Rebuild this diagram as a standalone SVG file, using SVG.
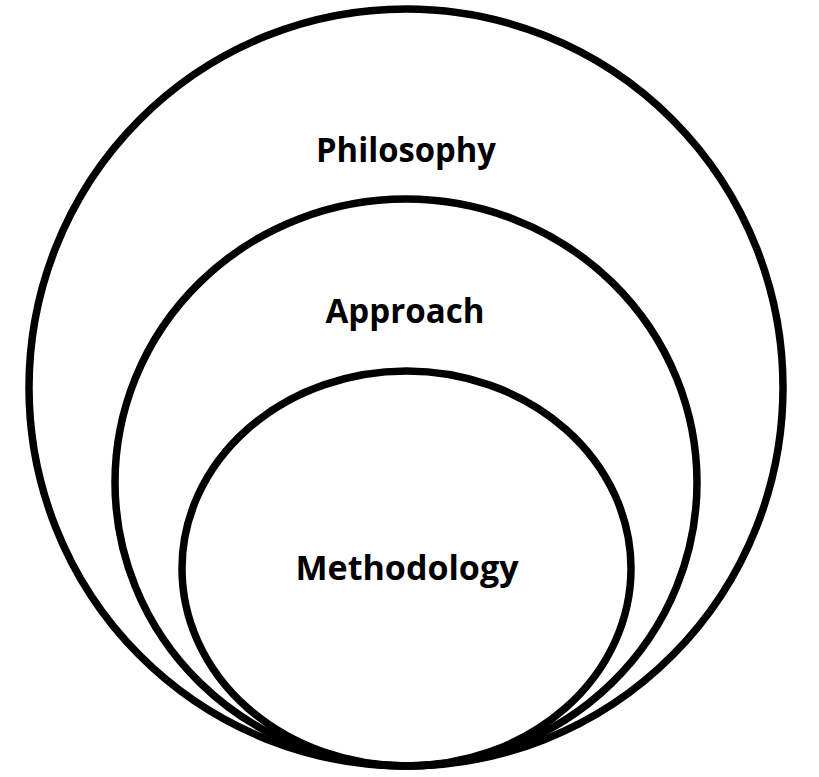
<svg xmlns="http://www.w3.org/2000/svg" width="819" height="777" viewBox="0 0 819 777">
<style>
.ring{fill:none;stroke:#000;stroke-width:7.5}
.lbl{font-family:"Open Sans","Liberation Sans",sans-serif;font-weight:bold;font-size:34px;fill:#000;text-anchor:middle}
</style>
<rect width="819" height="777" fill="#fff"/>
<g id="philosophy">
<ellipse class="ring" cx="406" cy="387.5" rx="377" ry="378.5"/>
<text class="lbl" x="406" y="162" textLength="180" lengthAdjust="spacingAndGlyphs">Philosophy</text>
</g>
<g id="approach">
<ellipse class="ring" cx="406" cy="482.5" rx="291" ry="283.5"/>
<text class="lbl" x="405" y="323" textLength="159" lengthAdjust="spacingAndGlyphs">Approach</text>
</g>
<g id="methodology">
<ellipse class="ring" cx="406.5" cy="568.5" rx="224.5" ry="197.5"/>
<text class="lbl" x="407" y="580" textLength="223" lengthAdjust="spacingAndGlyphs">Methodology</text>
</g>
<g id="connectors"/>
</svg>
